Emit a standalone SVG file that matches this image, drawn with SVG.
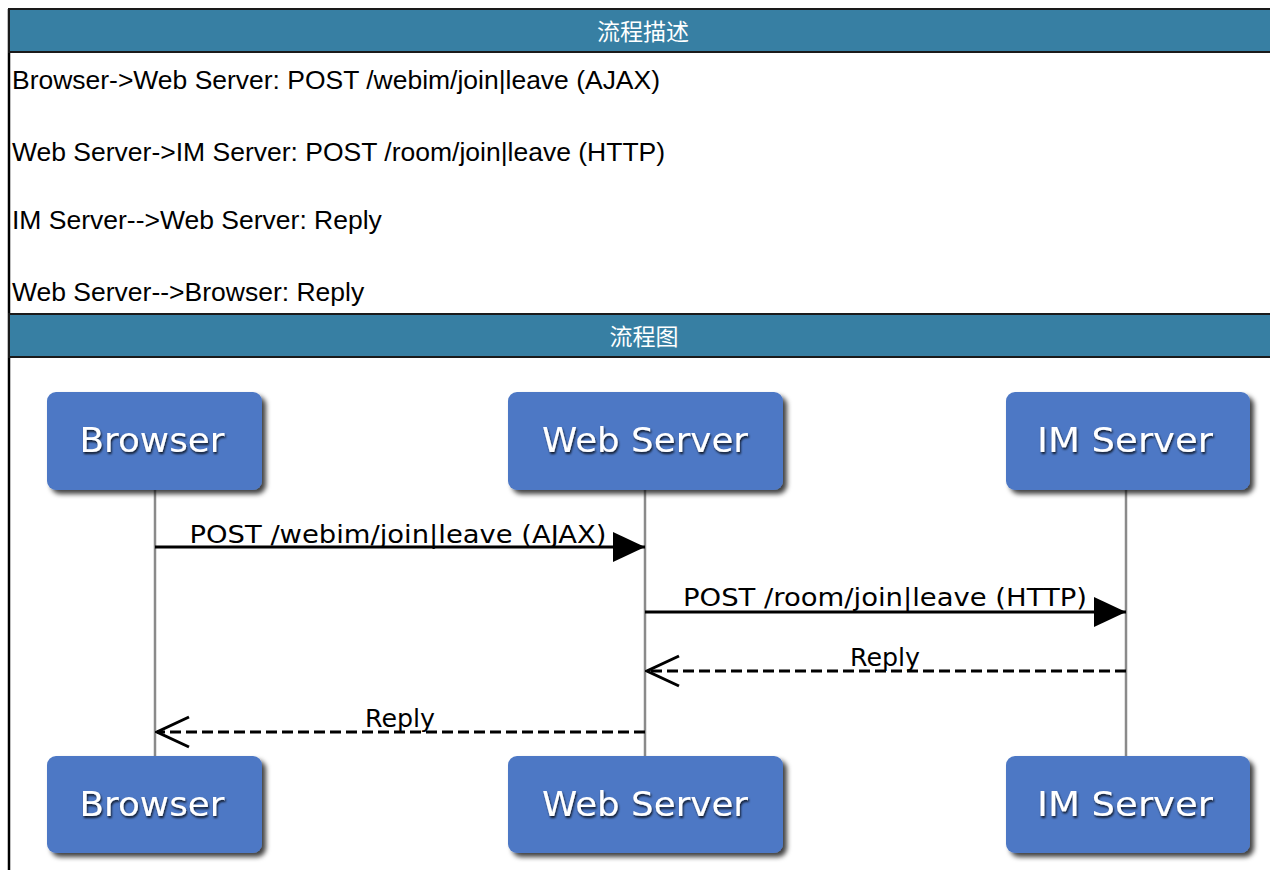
<svg xmlns="http://www.w3.org/2000/svg" width="1270" height="870" viewBox="0 0 1270 870">
<defs>
<style>
.hdr{fill:#377fa3;stroke:#1a1a1a;stroke-width:2}
.hdrtxt{font-family:"Liberation Sans","Noto Sans CJK SC",sans-serif;font-size:23px;fill:#fff;text-anchor:middle}
.row{font-family:"Liberation Sans",Arial,sans-serif;font-size:26.5px;fill:#000}
.box{fill:#4d78c5;filter:url(#sh)}
.btxt{font-family:"DejaVu Sans",Verdana,sans-serif;font-size:34px;fill:#fff;text-anchor:middle;filter:url(#tsh)}
.life{stroke:#8a8a8a;stroke-width:2.5;fill:none}
.msg{stroke:#000;stroke-width:3;fill:none}
.dash{stroke-dasharray:11 5}
.lbl{font-family:"DejaVu Sans",Verdana,sans-serif;font-size:24px;fill:#000;text-anchor:middle}
</style>
<filter id="sh" x="-10%" y="-10%" width="130%" height="140%">
<feDropShadow dx="4" dy="4" stdDeviation="2.5" flood-color="#000" flood-opacity="0.75"/>
</filter>
<filter id="tsh" x="-10%" y="-20%" width="130%" height="160%">
<feDropShadow dx="1" dy="2" stdDeviation="1.2" flood-color="#000" flood-opacity="0.8"/>
</filter>
<marker id="fill" viewBox="0 0 32 30" refX="32" refY="15" markerWidth="32" markerHeight="30" markerUnits="userSpaceOnUse" orient="auto">
<path d="M0,0 L32,15 L0,30 Z" fill="#000"/>
</marker>
<marker id="open" viewBox="-2 -2 36 34" refX="32" refY="15" markerWidth="36" markerHeight="34" markerUnits="userSpaceOnUse" orient="auto">
<path d="M0,0 L32,15 L0,30" fill="none" stroke="#000" stroke-width="3"/>
</marker>
</defs>
<rect width="1270" height="870" fill="#fff"/>
<g id="frame">
<line x1="9" y1="9" x2="9" y2="870" stroke="#000" stroke-width="2.5"/>
<rect class="hdr" x="9" y="9" width="1263" height="43"/>
<text class="hdrtxt" x="643" y="40">流程描述</text>
<text class="row" x="12" y="89" textLength="648" lengthAdjust="spacingAndGlyphs">Browser-&gt;Web Server: POST /webim/join|leave (AJAX)</text>
<text class="row" x="12" y="161">Web Server-&gt;IM Server: POST /room/join|leave (HTTP)</text>
<text class="row" x="12" y="229">IM Server--&gt;Web Server: Reply</text>
<text class="row" x="12" y="301">Web Server--&gt;Browser: Reply</text>
<rect class="hdr" x="9" y="314" width="1263" height="43"/>
<text class="hdrtxt" x="644" y="345">流程图</text>
</g>
<g id="lifelines">
<line class="life" x1="155" y1="490" x2="155" y2="756"/>
<line class="life" x1="645" y1="490" x2="645" y2="756"/>
<line class="life" x1="1126" y1="490" x2="1126" y2="756"/>
</g>
<g id="browser-top"><rect class="box" x="47" y="392" width="215" height="98" rx="9"/><text class="btxt" x="152" y="452" textLength="145" lengthAdjust="spacingAndGlyphs">Browser</text></g>
<g id="webserver-top"><rect class="box" x="508" y="392" width="275" height="98" rx="9"/><text class="btxt" x="645" y="452" textLength="206" lengthAdjust="spacingAndGlyphs">Web Server</text></g>
<g id="imserver-top"><rect class="box" x="1006" y="392" width="244" height="98" rx="9"/><text class="btxt" x="1125" y="452" textLength="176" lengthAdjust="spacingAndGlyphs">IM Server</text></g>
<g id="browser-bottom"><rect class="box" x="47" y="756" width="215" height="97" rx="9"/><text class="btxt" x="152" y="816" textLength="145" lengthAdjust="spacingAndGlyphs">Browser</text></g>
<g id="webserver-bottom"><rect class="box" x="508" y="756" width="275" height="97" rx="9"/><text class="btxt" x="645" y="816" textLength="206" lengthAdjust="spacingAndGlyphs">Web Server</text></g>
<g id="imserver-bottom"><rect class="box" x="1006" y="756" width="244" height="97" rx="9"/><text class="btxt" x="1125" y="816" textLength="176" lengthAdjust="spacingAndGlyphs">IM Server</text></g>
<g id="connectors">
<line class="msg" x1="155" y1="547" x2="645" y2="547" marker-end="url(#fill)"/>
<text class="lbl" x="398" y="543" textLength="417" lengthAdjust="spacingAndGlyphs">POST /webim/join|leave (AJAX)</text>
<line class="msg" x1="645" y1="612" x2="1126" y2="612" marker-end="url(#fill)"/>
<text class="lbl" x="885" y="606" textLength="404" lengthAdjust="spacingAndGlyphs">POST /room/join|leave (HTTP)</text>
<line class="msg dash" x1="1126" y1="671" x2="647" y2="671" marker-end="url(#open)"/>
<text class="lbl" x="885" y="666" textLength="70" lengthAdjust="spacingAndGlyphs">Reply</text>
<line class="msg dash" x1="645" y1="732" x2="157" y2="732" marker-end="url(#open)"/>
<text class="lbl" x="400" y="727" textLength="70" lengthAdjust="spacingAndGlyphs">Reply</text>
</g>
</svg>
